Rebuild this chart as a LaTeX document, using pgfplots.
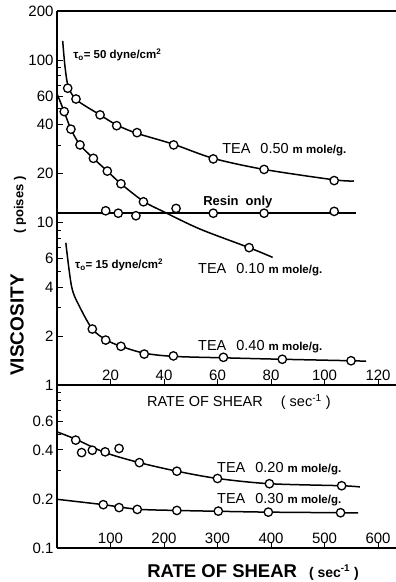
\documentclass[border=0pt]{standalone}
\usepackage{pgfplots}
\pgfplotsset{compat=1.18}
\usepackage{fontspec}
\setmainfont{Liberation Sans}
\pgfplotsset{
 crv/.style={black, line width=1.5pt, smooth, mark=none},
 pts/.style={black, only marks, mark=*, mark size=4.2pt, mark options={line width=1.3pt, fill=white}},
}
\newcommand{\tea}[1]{\fontsize{14.5}{15}\selectfont TEA\hspace{10pt}#1\hspace{4pt}{\bfseries\fontsize{11.5}{12}\selectfont m mole/g.}}
\begin{document}
\begin{tikzpicture}
\begin{axis}[scale only axis, width=339pt, height=374pt, at={(57pt,-11pt)}, anchor=north west,
  xmin=0, xmax=126.7, ymode=log, ymin=1, ymax=200, enlargelimits=false,
  axis x line*=box, axis y line*=left, xtick pos=bottom,
  tick style={black, line width=0.8pt}, major tick length=6pt, minor tick length=4pt,
  axis line style={line width=1.4pt}, tick align=inside,
  yticklabel style={font=\fontsize{15}{15}\selectfont},
  xticklabel style={font=\fontsize{15}{15}\selectfont, anchor=south, yshift=1pt},
  /pgf/number format/assume math mode=true, clip=false,
  ytick={1,2,4,6,10,20,40,60,100,200}, yticklabels={1,2,4,6,10,20,40,60,100,200},
  minor ytick={3,5,7,8,9,30,50,70,80,90},
  xtick={20,40,60,80,100,120}, xticklabels={20,40,60,80,100,120}]
% TEA 0.50
\addplot[crv] coordinates {(2.13,131) (2.99,91) (4.22,68.5) (7.36,56.7) (16.1,45.9) (22.3,39.8) (29.8,35.4) (43.5,30.3) (58.4,24.8) (77.4,21.2) (103.6,18.3) (111.0,18.0)};
\addplot[pts] coordinates {(4.0,67.0) (7.1,57.5) (16.1,45.9) (22.3,39.4) (29.9,35.7) (43.6,30.0) (58.4,24.6) (77.4,21.2) (103.6,18.1)};
% TEA 0.10
\addplot[crv] coordinates {(0,62) (2.7,48) (5.2,37.5) (8.6,30) (13.6,24.8) (18.8,20.7) (23.9,17.3) (32.3,13.5) (39.6,11.7) (53.5,9.1) (71.8,7.0) (80.6,6.1)};
\addplot[pts] coordinates {(2.7,48.1) (5.2,37.5) (8.6,30.0) (13.6,24.8) (18.8,20.7) (23.9,17.3) (32.3,13.4) (71.8,7.0)};
% Resin only
\addplot[black, line width=1.5pt, mark=none] coordinates {(0,11.45) (111.8,11.45)};
\addplot[pts] coordinates {(18.2,11.8) (22.9,11.4) (29.5,11.0) (44.5,12.2) (58.4,11.4) (77.4,11.4) (103.6,11.7)};
% TEA 0.40
\addplot[crv] coordinates {(3.3,7.5) (5.5,4.0) (8.6,3.0) (13.2,2.21) (18.2,1.9) (23.9,1.73) (32.6,1.57) (43.5,1.5) (62.2,1.47) (84.2,1.44) (109.9,1.41) (115.5,1.40)};
\addplot[pts] coordinates {(13.2,2.21) (18.2,1.89) (23.9,1.73) (32.6,1.55) (43.5,1.51) (62.2,1.48) (84.2,1.44) (109.9,1.41)};
\node[anchor=west, font=\bfseries\fontsize{11.5}{12}\selectfont, inner sep=0pt] at (axis cs:6.0,107) {τ\textsubscript{o}= 50 dyne/cm\textsuperscript{2}};
\node[anchor=west, font=\bfseries\fontsize{11.5}{12}\selectfont, inner sep=0pt] at (axis cs:6.7,5.48) {τ\textsubscript{o}= 15 dyne/cm\textsuperscript{2}};
\node[anchor=west, inner sep=0pt] at (axis cs:61.7,27.9) {\tea{0.50}};
\node[anchor=west, inner sep=0pt, font=\bfseries\fontsize{13}{14}\selectfont] at (axis cs:54.6,13.4) {Resin\hspace{7pt}only};
\node[anchor=west, inner sep=0pt] at (axis cs:52.7,5.1) {\tea{0.10}};
\node[anchor=west, inner sep=0pt] at (axis cs:52.7,1.71) {\tea{0.40}};
\end{axis}
\begin{axis}[scale only axis, width=339pt, height=163pt, at={(57pt,-385pt)}, anchor=north west,
  xmin=0, xmax=633.6, ymode=log, ymin=0.1, ymax=1, enlargelimits=false,
  axis x line*=bottom, axis y line*=left,
  tick style={black, line width=0.8pt}, major tick length=6pt, minor tick length=4pt,
  axis line style={line width=1.4pt}, tick align=inside,
  yticklabel style={font=\fontsize{15}{15}\selectfont},
  xticklabel style={font=\fontsize{15}{15}\selectfont, anchor=south, yshift=1pt},
  /pgf/number format/assume math mode=true, clip=false,
  ytick={0.1,0.2,0.4,0.6}, yticklabels={0.1,0.2,0.4,0.6},
  minor ytick={0.3,0.5,0.7,0.8,0.9},
  xtick={100,200,300,400,500,600}, xticklabels={100,200,300,400,500,600}]
% TEA 0.20
\addplot[crv] coordinates {(0,0.516) (35,0.465) (90,0.385) (154,0.334) (224,0.296) (300,0.267) (397,0.248) (532,0.241) (566,0.237)};
\addplot[pts] coordinates {(35,0.459) (46,0.385) (66,0.398) (90,0.389) (116,0.408) (154,0.334) (224,0.296) (300,0.267) (397,0.248) (532,0.241)};
% TEA 0.30
\addplot[crv] coordinates {(0,0.199) (86.5,0.1845) (150,0.173) (224,0.170) (301.5,0.168) (395,0.166) (530,0.1646) (563,0.164)};
\addplot[pts] coordinates {(86.5,0.1845) (116,0.177) (150,0.1725) (224,0.170) (301.5,0.1684) (395,0.166) (530,0.1646)};
\node[anchor=west, inner sep=0pt] at (axis cs:299,0.308) {\tea{0.20}};
\node[anchor=west, inner sep=0pt] at (axis cs:299,0.199) {\tea{0.30}};
\node[font=\fontsize{14.5}{15}\selectfont, inner sep=0pt] at (axis cs:340,0.786) {RATE OF SHEAR\hspace{18pt}( sec\textsuperscript{-1} )};
\end{axis}
\node[rotate=90, font=\bfseries\fontsize{19}{20}\selectfont, inner sep=0pt] at (17pt,-325pt) {VISCOSITY};
\node[rotate=90, font=\bfseries\fontsize{13}{14}\selectfont, inner sep=0pt] at (20pt,-205pt) {( poises )};
\node[font=\bfseries\fontsize{18.5}{19}\selectfont, inner sep=0pt] at (253pt,-572pt) {RATE OF SHEAR\hspace{12pt}{\fontsize{14}{15}\selectfont ( sec\textsuperscript{-1} )}};
\pgfresetboundingbox
\path[use as bounding box] (0pt,0pt) rectangle (396pt,-582pt);
\end{tikzpicture}
\end{document}
